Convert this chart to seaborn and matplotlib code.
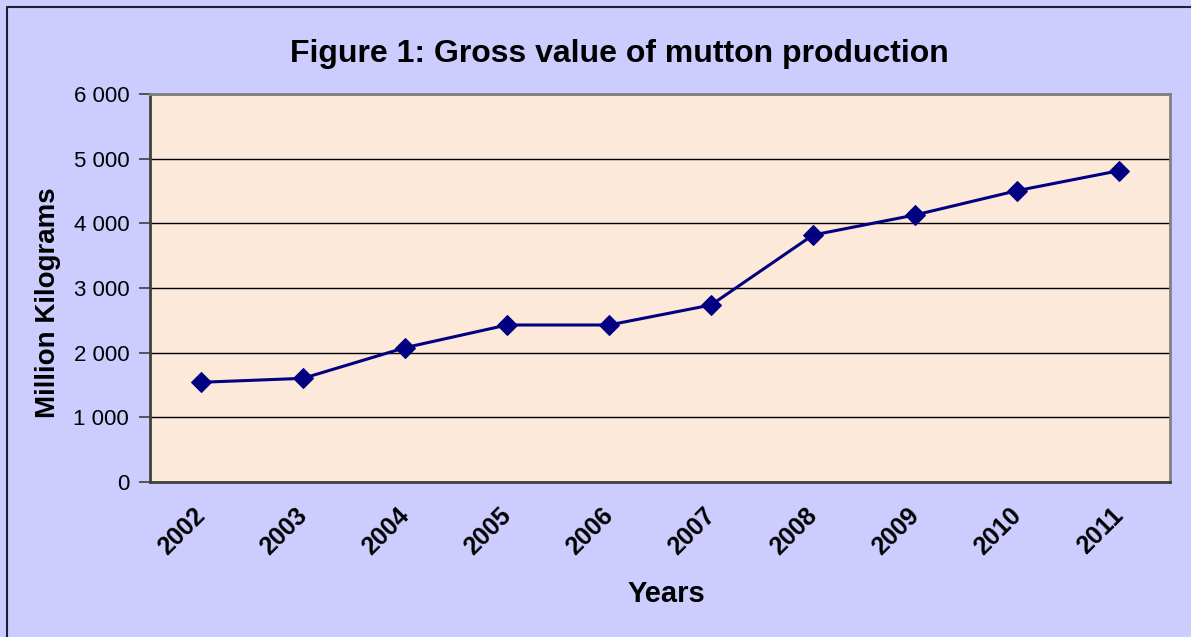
import matplotlib
matplotlib.use("Agg")
import matplotlib.pyplot as plt
import matplotlib.ticker as mticker
from matplotlib.lines import Line2D
import seaborn as sns
import pandas as pd

# values
years = ['2002', '2003', '2004', '2005', '2006', '2007', '2008', '2009', '2010', '2011']
mutton = [1542, 1603, 2077, 2428, 2428, 2737, 3819, 4129, 4505, 4814]

df = pd.DataFrame({'pos': range(len(years)), 'value': mutton})

sns.set_style('white')
plt.rcParams['font.family'] = ['Liberation Sans', 'DejaVu Sans']
plt.rcParams['text.color'] = 'black'
plt.rcParams['xtick.color'] = 'black'
plt.rcParams['ytick.color'] = 'black'
plt.rcParams['axes.labelcolor'] = 'black'

fig = plt.figure(figsize=(11.91, 6.37), dpi=100, facecolor='#ccccff')
ax = fig.add_axes([150 / 1191, 1 - 482 / 637, 1020 / 1191, 388 / 637])
ax.set_facecolor('#fde9da')

sns.lineplot(data=df, x='pos', y='value', ax=ax, color='#000080', marker='D',
             markersize=10, linewidth=2.2, markeredgecolor='#000080')

ax.set_xlim(-0.5, len(years) - 0.5)
ax.set_ylim(0, 6000)
ax.yaxis.set_major_locator(mticker.MultipleLocator(1000))
ax.yaxis.set_major_formatter(mticker.FuncFormatter(lambda v, p: f'{int(v):,}'.replace(',', ' ')))
ax.grid(axis='y', color='black', linewidth=1)
ax.set_axisbelow(True)

# category labels near the middle (slightly left, as in the reference), tick marks between categories
ax.set_xticks([i - 0.08 for i in range(len(years))])
ax.set_xticklabels(years, rotation=45, ha='right', va='top', rotation_mode='anchor',
                   fontsize=18, fontweight='bold')
ax.set_xticks([i - 0.5 for i in range(len(years) + 1)], minor=True)
ax.tick_params(axis='x', which='major', length=0, pad=15)
ax.tick_params(axis='x', which='minor', length=7, width=1.2, color='#404040', direction='out')
ax.tick_params(axis='y', length=8, width=1.2, color='#404040', direction='out', labelsize=16, pad=7)
ax.tick_params(bottom=True, left=True)

for side in ['left', 'bottom']:
    ax.spines[side].set_color('#404040')
    ax.spines[side].set_linewidth(2)
for side in ['top', 'right']:
    ax.spines[side].set_color('#808080')
    ax.spines[side].set_linewidth(2)

ax.set_xlabel('Years', fontsize=21, fontweight='bold')
ax.set_ylabel('Million Kilograms', fontsize=20, fontweight='bold')
ax.xaxis.set_label_coords(516 / 1020, -(580 - 482) / 388)
ax.yaxis.set_label_coords(-(150 - 61) / 1020, (482 - 303) / 388)

fig.text(619 / 1191, 1 - 54 / 637, 'Figure 1: Gross value of mutton production',
         ha='center', va='center', fontsize=23, fontweight='bold')

# frame only on the top and left edge, as in the reference
fig.lines.append(Line2D([7 / 1191, 1], [1 - 7 / 637, 1 - 7 / 637], transform=fig.transFigure,
                        color='#202030', linewidth=1.5))
fig.lines.append(Line2D([7 / 1191, 7 / 1191], [0, 1 - 7 / 637], transform=fig.transFigure,
                        color='#202030', linewidth=1.5))

fig.savefig('out.png', dpi=100, facecolor=fig.get_facecolor())
